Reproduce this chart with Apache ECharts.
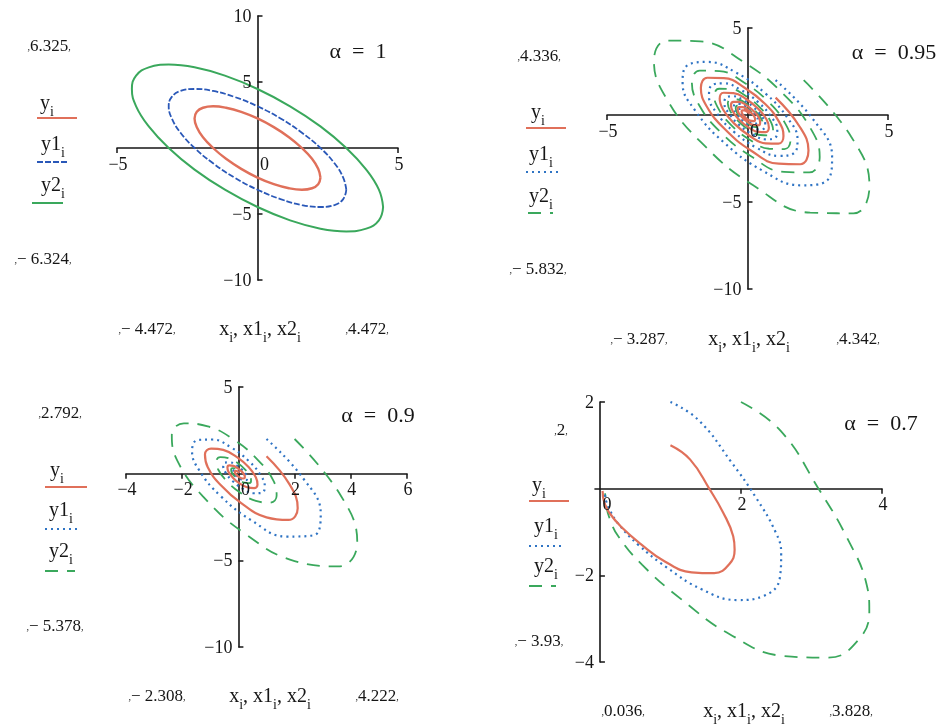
<!DOCTYPE html>
<html>
<head>
<meta charset="utf-8">
<script src="https://cdn.jsdelivr.net/npm/echarts@6/dist/echarts.min.js"></script>
<style>
  html, body { margin: 0; padding: 0; background: #fff; }
  #chart { width: 942px; height: 728px; }
</style>
</head>
<body>
<div id="chart"></div>
<script>
// ---- data (x, y pairs) ----
// alpha = 1 : closed ellipses
const p1Red = [[2.24,-2.24],[2.16,-1.58],[1.94,-0.82],[1.58,0],[1.12,0.82],[0.58,1.58],[0,2.24],[-0.58,2.74],[-1.12,3.05],[-1.58,3.16],[-1.94,3.05],[-2.16,2.74],[-2.24,2.24],[-2.16,1.58],[-1.94,0.82],[-1.58,0],[-1.12,-0.82],[-0.58,-1.58],[0,-2.24],[0.58,-2.74],[1.12,-3.05],[1.58,-3.16],[1.94,-3.05],[2.16,-2.74],[2.24,-2.24]];
const p1Blue = [[3.16,-3.16],[3.05,-2.24],[2.74,-1.16],[2.24,0],[1.58,1.16],[0.82,2.24],[0,3.16],[-0.82,3.87],[-1.58,4.32],[-2.24,4.47],[-2.74,4.32],[-3.05,3.87],[-3.16,3.16],[-3.05,2.24],[-2.74,1.16],[-2.24,0],[-1.58,-1.16],[-0.82,-2.24],[0,-3.16],[0.82,-3.87],[1.58,-4.32],[2.24,-4.47],[2.74,-4.32],[3.05,-3.87],[3.16,-3.16]];
const p1Green = [[4.47,-4.47],[4.32,-3.16],[3.87,-1.64],[3.16,0],[2.24,1.64],[1.16,3.16],[0,4.47],[-1.16,5.48],[-2.24,6.11],[-3.16,6.32],[-3.87,6.11],[-4.32,5.48],[-4.47,4.47],[-4.32,3.16],[-3.87,1.64],[-3.16,0],[-2.24,-1.64],[-1.16,-3.16],[0,-4.47],[1.16,-5.48],[2.24,-6.11],[3.16,-6.32],[3.87,-6.11],[4.32,-5.48],[4.47,-4.47]];

// alpha = 0.95 : slow spirals
const p2Red = [[1,1],[1.84,-0.63],[2.17,-2.04],[1.88,-2.83],[1.11,-2.80],[0.12,-2.04],[-0.81,-0.81],[-1.45,0.49],[-1.66,1.56],[-1.43,2.14],[-0.84,2.12],[-0.09,1.55],[0.63,0.63],[1.12,-0.38],[1.28,-1.21],[1.10,-1.65],[0.65,-1.63],[0.07,-1.19],[-0.48,-0.48],[-0.86,0.29],[-0.99,0.93],[-0.85,1.28],[-0.50,1.26],[-0.05,0.92],[0.37,0.37],[0.67,-0.23],[0.76,-0.72],[0.65,-0.98],[0.39,-0.97],[0.04,-0.71],[-0.29,-0.29],[-0.51,0.17],[-0.59,0.55],[-0.50,0.76],[-0.30,0.75],[-0.03,0.55],[0.22,0.22],[0.40,-0.13],[0.45,-0.43],[0.39,-0.59],[0.23,-0.58],[0.02,-0.42],[-0.17,-0.17],[-0.31,0.10],[-0.35,0.33],[-0.30,0.45],[-0.18,0.45],[-0.02,0.33],[0.13,0.13],[0.24,-0.08],[0.27,-0.25],[0.23,-0.35],[0.14,-0.34],[0.01,-0.25],[-0.10,-0.10],[-0.18,0.06],[-0.21,0.20],[-0.18,0.27],[-0.11,0.27],[-0.01,0.19],[0.08,0.08]];
const p2Blue = [[1,2],[2.34,-0.26],[3.01,-2.40],[2.83,-3.77],[1.90,-4.04],[0.55,-3.21],[-0.81,-1.62],[-1.84,0.21],[-2.31,1.84],[-2.14,2.85],[-1.43,3.05],[-0.41,2.44],[0.63,1.25],[1.42,-0.16],[1.78,-1.42],[1.65,-2.20],[1.11,-2.35],[0.32,-1.88],[-0.48,-0.97],[-1.10,0.12],[-1.37,1.09],[-1.28,1.70],[-0.85,1.82],[-0.25,1.45],[0.37,0.75],[0.84,-0.10],[1.06,-0.84],[0.98,-1.31],[0.66,-1.40],[0.19,-1.12],[-0.29,-0.58],[-0.65,0.07],[-0.82,0.65],[-0.76,1.01],[-0.51,1.08],[-0.15,0.86],[0.22,0.44],[0.50,-0.06],[0.63,-0.50],[0.59,-0.78],[0.39,-0.83],[0.11,-0.67],[-0.17,-0.34],[-0.39,0.04],[-0.49,0.39],[-0.45,0.60],[-0.30,0.64],[-0.09,0.52],[0.13,0.26],[0.30,-0.03],[0.37,-0.30],[0.35,-0.46],[0.23,-0.50],[0.07,-0.40],[-0.10,-0.20],[-0.23,0.03],[-0.29,0.23],[-0.27,0.36],[-0.18,0.38],[-0.05,0.31],[0.08,0.16]];
const p2Green = [[2,2],[3.69,-1.25],[4.34,-4.08],[3.77,-5.65],[2.23,-5.61],[0.23,-4.07],[-1.62,-1.62],[-2.90,0.99],[-3.33,3.13],[-2.85,4.28],[-1.68,4.23],[-0.18,3.09],[1.25,1.25],[2.24,-0.76],[2.57,-2.41],[2.20,-3.30],[1.30,-3.27],[0.14,-2.39],[-0.97,-0.97],[-1.73,0.59],[-1.98,1.86],[-1.70,2.55],[-1.00,2.52],[-0.10,1.84],[0.75,0.75],[1.33,-0.45],[1.53,-1.44],[1.31,-1.96],[0.77,-1.94],[0.08,-1.42],[-0.58,-0.58],[-1.03,0.35],[-1.18,1.11],[-1.01,1.51],[-0.60,1.50],[-0.06,1.09],[0.44,0.44],[0.79,-0.27],[0.91,-0.85],[0.78,-1.17],[0.46,-1.15],[0.05,-0.85],[-0.34,-0.34],[-0.61,0.21],[-0.70,0.66],[-0.60,0.90],[-0.35,0.89],[-0.04,0.65],[0.26,0.26],[0.47,-0.16],[0.54,-0.51],[0.46,-0.70],[0.27,-0.69],[0.03,-0.50],[-0.20,-0.20],[-0.37,0.12],[-0.42,0.39],[-0.36,0.54],[-0.21,0.53],[-0.02,0.39],[0.16,0.16]];

// alpha = 0.9 : faster spirals
const p3Red = [[1,1],[1.82,-0.62],[2.11,-1.99],[1.78,-2.67],[1.00,-2.52],[0.10,-1.70],[-0.64,-0.64],[-1.09,0.37],[-1.19,1.11],[-0.97,1.45],[-0.54,1.37],[-0.05,0.95],[0.37,0.37],[0.62,-0.21],[0.68,-0.64],[0.56,-0.83],[0.31,-0.78],[0.03,-0.55],[-0.21,-0.21],[-0.36,0.12],[-0.39,0.37],[-0.32,0.48],[-0.18,0.45],[-0.02,0.31],[0.12,0.12],[0.21,-0.07],[0.23,-0.21],[0.18,-0.28],[0.10,-0.26],[0.01,-0.18],[-0.07,-0.07],[-0.12,0.04],[-0.13,0.12],[-0.11,0.16],[-0.06,0.15],[-0.01,0.10],[0.04,0.04]];
const p3Blue = [[1,2],[2.30,-0.26],[2.93,-2.33],[2.67,-3.56],[1.71,-3.63],[0.46,-2.69],[-0.64,-1.28],[-1.38,0.16],[-1.65,1.31],[-1.45,1.94],[-0.93,1.97],[-0.25,1.50],[0.37,0.73],[0.79,-0.09],[0.94,-0.75],[0.83,-1.11],[0.53,-1.13],[0.15,-0.86],[-0.21,-0.42],[-0.45,0.05],[-0.54,0.43],[-0.48,0.64],[-0.31,0.65],[-0.08,0.50],[0.12,0.24],[0.26,-0.03],[0.31,-0.25],[0.28,-0.37],[0.18,-0.37],[0.05,-0.28],[-0.07,-0.14],[-0.15,0.02],[-0.18,0.14],[-0.16,0.21],[-0.10,0.21],[-0.03,0.16],[0.04,0.08]];
const p3Green = [[2,2],[3.63,-1.23],[4.23,-3.97],[3.56,-5.35],[2.00,-5.04],[0.19,-3.41],[-1.28,-1.28],[-2.17,0.74],[-2.37,2.23],[-1.94,2.90],[-1.09,2.73],[-0.11,1.90],[0.73,0.73],[1.25,-0.42],[1.36,-1.28],[1.11,-1.67],[0.62,-1.57],[0.06,-1.09],[-0.42,-0.42],[-0.72,0.24],[-0.78,0.73],[-0.64,0.96],[-0.36,0.90],[-0.04,0.63],[0.24,0.24],[0.41,-0.14],[0.45,-0.42],[0.37,-0.55],[0.21,-0.52],[0.02,-0.36],[-0.14,-0.14],[-0.24,0.08],[-0.26,0.24],[-0.21,0.32],[-0.12,0.30],[-0.01,0.20],[0.08,0.08]];

// alpha = 0.7 : strongly damped
const p4Red = [[1,1],[1.28,0.67],[1.55,0],[1.75,-0.56],[1.89,-1.10],[1.91,-1.41],[1.83,-1.75],[1.62,-1.95],[1.30,-1.93],[0.92,-1.68],[0.58,-1.28],[0.30,-0.88],[0.13,-0.55],[0.07,-0.35],[0.045,-0.20],[0.04,-0.10],[0.036,-0.055]];
const p4Blue = [[1,2],[1.40,1.58],[1.86,0.62],[2.21,-0.20],[2.49,-1.00],[2.57,-1.49],[2.55,-2.07],[2.33,-2.47],[1.95,-2.57],[1.44,-2.32],[0.95,-1.82],[0.54,-1.29],[0.27,-0.83],[0.15,-0.53],[0.09,-0.30],[0.07,-0.14],[0.05,-0.07]];
const p4Green = [[2,2],[2.56,1.34],[3.10,0],[3.50,-1.12],[3.78,-2.20],[3.82,-2.82],[3.66,-3.50],[3.24,-3.90],[2.60,-3.86],[1.84,-3.36],[1.16,-2.56],[0.60,-1.76],[0.26,-1.10],[0.14,-0.70],[0.09,-0.40],[0.08,-0.20],[0.072,-0.11]];

// tick values and labels per panel
const xTicks = [[-5, 5], [-5, 5], [-4, -2, 2, 4, 6], [2, 4]];
const xTickLabels = [[-5, 0, 5], [-5, 0, 5], [-4, -2, 0, 2, 4, 6], [0, 2, 4]];
const yTicks = [[10, 5, -5, -10], [5, -5, -10], [5, -5, -10], [2, -2, -4]];
const alphaText = ['α = 1', 'α = 0.95', 'α = 0.9', 'α = 0.7'];
const yMaxText = ['6.325', '4.336', '2.792', '2'];
const yMinText = ['− 6.324', '− 5.832', '− 5.378', '− 3.93'];
const xMinText = ['− 4.472', '− 3.287', '− 2.308', '0.036'];
const xMaxText = ['4.472', '4.342', '4.222', '3.828'];

const panelData = [
  [p1Red, p1Blue, p1Green],
  [p2Red, p2Blue, p2Green],
  [p3Red, p3Blue, p3Green],
  [p4Red, p4Blue, p4Green]
];

// ---- layout ----
const FONT = '"Liberation Serif", "Times New Roman", serif';
const RED = '#e0705a', BLUE = '#2f74c4', GREEN = '#3aa85c', INK = '#161616';

const grids = [
  { left: 117, top: 16, width: 281, height: 264, xr: [-5, 5], yr: [-10, 10] },
  { left: 607, top: 28, width: 281, height: 261, xr: [-5, 5], yr: [-10, 5] },
  { left: 126, top: 387, width: 281, height: 260, xr: [-4, 6], yr: [-10, 5] },
  { left: 595, top: 402, width: 287, height: 260, xr: [-0.07, 4], yr: [-4, 2] }
];

// text anchors: value labels, axis title, alpha, legend [textX, textY, lineX1, lineX2, lineY]
const textPos = [
  { ymax: [49, 47], ymin: [43, 260], xmin: [147, 330], xlab: [260, 330], xmax: [367, 330], alpha: [358, 52],
    leg: [[47, 104, 37, 77, 118], [53, 145, 37, 68, 162], [53, 186, 32, 63, 203]] },
  { ymax: [539, 57], ymin: [538, 270], xmin: [639, 340], xlab: [749, 340], xmax: [858, 340], alpha: [894, 53],
    leg: [[538, 113, 526, 566, 128], [541, 155, 526, 560, 172], [541, 197, 528, 553, 213]] },
  { ymax: [60, 414], ymin: [55, 627], xmin: [157, 697], xlab: [270, 697], xmax: [377, 697], alpha: [378, 416],
    leg: [[57, 471, 45, 87, 487], [61, 511, 45, 78, 529], [61, 552, 45, 75, 571]] },
  { ymax: [561, 431], ymin: [539, 642], xmin: [623, 712], xlab: [744, 712], xmax: [851, 712], alpha: [881, 424],
    leg: [[539, 486, 529, 569, 501], [546, 527, 529, 561, 546], [546, 567, 529, 556, 586]] }
];

function fmt(v) {
  return v < 0 ? '−' + (-v) : String(v);
}

const xAxes = [], yAxes = [], series = [], graphic = [];
const tickLine = { color: INK, width: 1.5 };

grids.forEach(function (g, i) {
  xAxes.push({
    gridIndex: i, type: 'value', min: g.xr[0], max: g.xr[1],
    axisLine: { onZero: true, lineStyle: { color: INK, width: 1.6 } },
    axisTick: { customValues: xTicks[i], length: 5, inside: false, lineStyle: tickLine },
    axisLabel: { show: false },
    splitLine: { show: false }
  });
  yAxes.push({
    gridIndex: i, type: 'value', min: g.yr[0], max: g.yr[1],
    axisLine: { onZero: true, lineStyle: { color: INK, width: 1.6 } },
    axisTick: { customValues: yTicks[i], length: 5, inside: true, lineStyle: tickLine },
    axisLabel: { show: false },
    splitLine: { show: false }
  });
});
// second set of axes only to make the ticks cross the axis line
grids.forEach(function (g, i) {
  xAxes.push({
    gridIndex: i, type: 'value', min: g.xr[0], max: g.xr[1],
    axisLine: { show: false, onZero: true },
    axisTick: { customValues: xTicks[i], length: 5, inside: true, lineStyle: tickLine },
    axisLabel: { show: false }, splitLine: { show: false }
  });
  yAxes.push({
    gridIndex: i, type: 'value', min: g.yr[0], max: g.yr[1],
    axisLine: { show: false, onZero: true },
    axisTick: { customValues: yTicks[i], length: 5, inside: false, lineStyle: tickLine },
    axisLabel: { show: false }, splitLine: { show: false }
  });
});

const styles = [
  [{ color: RED, width: 2.4, type: 'solid' }, { color: '#2a58b8', width: 1.8, type: [6, 2] }, { color: GREEN, width: 2, type: 'solid' }],
  [{ color: RED, width: 2.2, type: 'solid' }, { color: BLUE, width: 2.2, type: [2, 4] }, { color: GREEN, width: 1.8, type: [13, 9] }],
  [{ color: RED, width: 2.2, type: 'solid' }, { color: BLUE, width: 2.2, type: [2, 4] }, { color: GREEN, width: 1.8, type: [13, 9] }],
  [{ color: RED, width: 2.2, type: 'solid' }, { color: BLUE, width: 2.2, type: [2, 4] }, { color: GREEN, width: 1.8, type: [13, 9] }]
];
const names = ['y', 'y1', 'y2'];

panelData.forEach(function (set, i) {
  set.forEach(function (data, j) {
    series.push({
      name: names[j] + '_' + i,
      type: 'line', xAxisIndex: i, yAxisIndex: i,
      data: data, showSymbol: false, smooth: 0.45,
      lineStyle: styles[i][j], silent: true, z: 3 - j
    });
  });
});

const chart = echarts.init(document.getElementById('chart'), null, { renderer: 'canvas' });
chart.setOption({
  animation: false,
  backgroundColor: '#ffffff',
  grid: grids.map(function (g) {
    return { left: g.left, top: g.top, width: g.width, height: g.height, containLabel: false };
  }),
  xAxis: xAxes,
  yAxis: yAxes,
  series: series
});

const mark = { fontSize: 10, color: '#555', fontFamily: FONT };
const sub = { fontFamily: FONT, fontSize: 14, color: INK, lineHeight: 31, verticalAlign: 'bottom' };

function txt(pos, text, size, rich, align) {
  return {
    type: 'text', x: pos[0], y: pos[1], silent: true, z: 10,
    style: {
      text: text, fill: INK, font: size + 'px ' + FONT,
      align: align || 'center', verticalAlign: 'middle', rich: rich || {}
    }
  };
}

// tick labels placed through the axes' own scales
grids.forEach(function (g, i) {
  const finder = { xAxisIndex: i, yAxisIndex: i };
  xTickLabels[i].forEach(function (v) {
    const p = chart.convertToPixel(finder, [v, 0]);
    graphic.push(txt([p[0] + (v === 0 ? 7 : 1), p[1] + 17], fmt(v), 18));
  });
  yTicks[i].forEach(function (v) {
    const p = chart.convertToPixel(finder, [0, v]);
    graphic.push(txt([p[0] - 6, p[1] + 1], fmt(v), 18, null, 'right'));
  });
});

textPos.forEach(function (p, i) {
  graphic.push(txt(p.ymax, '{m|,}' + yMaxText[i] + '{m|,}', 17, { m: mark }));
  graphic.push(txt(p.ymin, '{m|,}' + yMinText[i] + '{m|,}', 17, { m: mark }));
  graphic.push(txt(p.xmin, '{m|,}' + xMinText[i] + '{m|,}', 17, { m: mark }));
  graphic.push(txt(p.xmax, '{m|,}' + xMaxText[i] + '{m|,}', 17, { m: mark }));
  graphic.push(txt(p.xlab, 'x{s|i}, x1{s|i}, x2{s|i}', 20, { s: sub }));
  graphic.push(txt(p.alpha, alphaText[i].replace(/ = /, '  =  '), 22));
  p.leg.forEach(function (l, j) {
    graphic.push(txt([l[0], l[1]], names[j] + '{s|i}', 20, { s: sub }));
    const st = styles[i][j];
    graphic.push({
      type: 'line', silent: true,
      shape: { x1: l[2], y1: l[4], x2: l[3], y2: l[4] },
      style: { stroke: st.color, lineWidth: 2, lineDash: Array.isArray(st.type) ? st.type : null }
    });
  });
});

chart.setOption({ graphic: graphic });
</script>
</body>
</html>
